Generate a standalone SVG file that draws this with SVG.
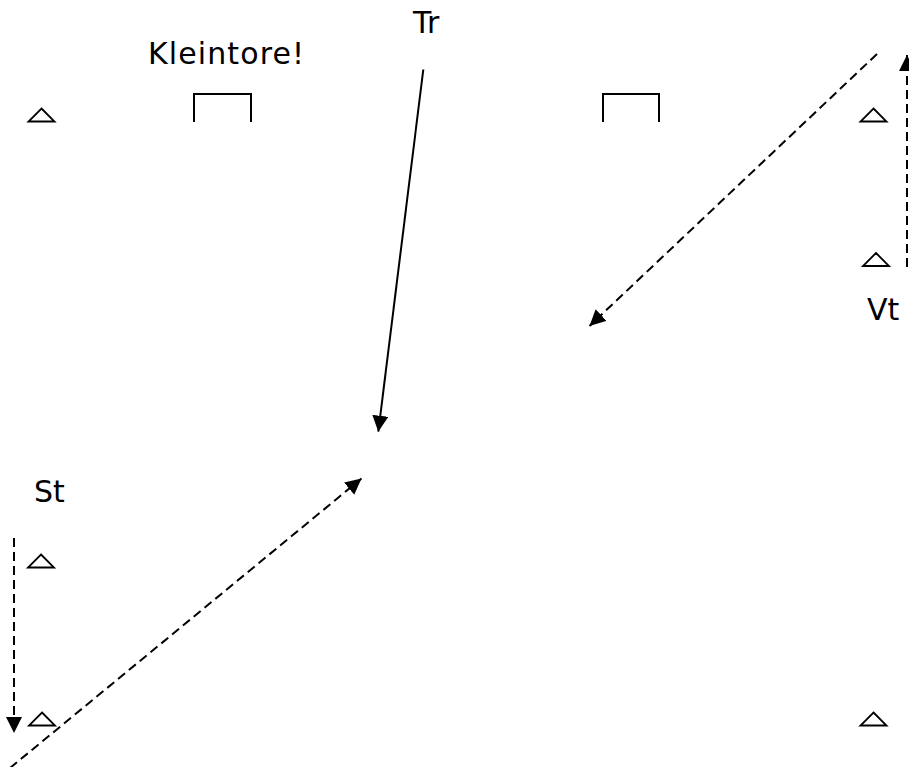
<svg xmlns="http://www.w3.org/2000/svg" width="909" height="767" viewBox="0 0 909 767">
  <style>
    .label { font-family: "DejaVu Sans", Verdana, sans-serif; font-size: 30px; fill: #000; }
    .goal { fill: none; stroke: #000; stroke-width: 2; }
    .cone { fill: #fff; stroke: #000; stroke-width: 1.8; }
    .run { fill: none; stroke: #000; stroke-width: 2; }
    .dashed { stroke-dasharray: 9 5; }
  </style>
  <defs>
    <marker id="head" markerUnits="userSpaceOnUse" markerWidth="17" markerHeight="17" refX="16" refY="8" orient="auto">
      <path d="M0,0 L16,8 L0,16 Z" fill="#000"/>
    </marker>
    <polygon id="cone-shape" points="0,-6.5 13,6.5 -13,6.5"/>
  </defs>

  <rect width="909" height="767" fill="#fff"/>

  <!-- labels -->
  <g id="labels">
    <text class="label" x="148" y="64" letter-spacing="1.1">Kleintore!</text>
    <text class="label" x="413" y="33">Tr</text>
    <text class="label" x="867" y="320">Vt</text>
    <text class="label" x="34" y="502">St</text>
  </g>

  <!-- small goals -->
  <g id="goal-left"><path class="goal" d="M194,122 V94 H251 V122"/></g>
  <g id="goal-right"><path class="goal" d="M603,122 V94 H659 V122"/></g>

  <!-- cones -->
  <g id="cone-1"><use href="#cone-shape" class="cone" transform="translate(41.5,115)"/></g>
  <g id="cone-2"><use href="#cone-shape" class="cone" transform="translate(873.5,115)"/></g>
  <g id="cone-3"><use href="#cone-shape" class="cone" transform="translate(876,259.5)"/></g>
  <g id="cone-4"><use href="#cone-shape" class="cone" transform="translate(41,561)"/></g>
  <g id="cone-5"><use href="#cone-shape" class="cone" transform="translate(42,719)"/></g>
  <g id="cone-6"><use href="#cone-shape" class="cone" transform="translate(873.5,719)"/></g>

  <!-- runs and passes -->
  <g id="connectors">
    <line class="run" x1="423.3" y1="69.5" x2="378.3" y2="431.7" marker-end="url(#head)"/>
    <line class="run dashed" x1="877" y1="54" x2="589.5" y2="326" marker-end="url(#head)"/>
    <line class="run dashed" x1="907" y1="267" x2="907" y2="55" marker-end="url(#head)"/>
    <line class="run dashed" x1="14" y1="538" x2="14" y2="733" marker-end="url(#head)"/>
    <line class="run dashed" x1="10" y1="768" x2="361.5" y2="478.5" marker-end="url(#head)"/>
  </g>
</svg>
